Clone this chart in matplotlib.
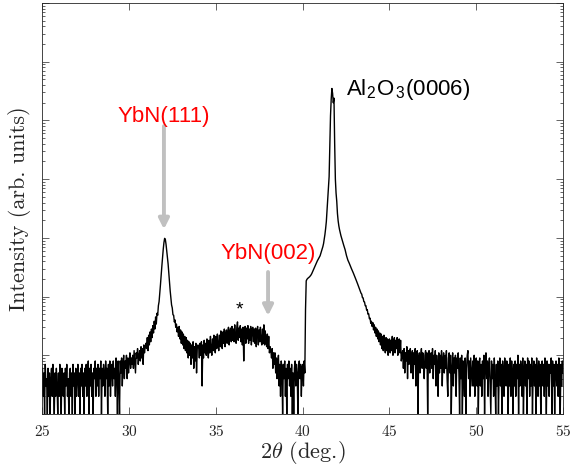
import numpy as np
import matplotlib
matplotlib.use("Agg")
import matplotlib.pyplot as plt
from matplotlib.ticker import LogLocator, NullFormatter, FixedLocator

plt.rcParams['font.family'] = 'cmr10'
plt.rcParams['mathtext.fontset'] = 'cm'
plt.rcParams['axes.formatter.use_mathtext'] = True

# scan grid (deg.)
scan_start = 25.0
scan_step = 0.04

# counts, segment by segment
# 25.00 - 30.96
bg_left = [
    6, 2, 5, 1, 7, 3, 4, 1, 6, 2,
    5, 1, 4, 6, 2, 7, 3, 1, 5, 2,
    6, 3, 1, 5, 2, 7, 4, 1, 6, 3,
    2, 5, 1, 6, 3, 7, 2, 4, 1, 5,
    6, 2, 5, 1, 7, 3, 5, 1, 6, 2,
    4, 7, 2, 5, 1, 6, 3, 7, 2, 5,
    1, 6, 3, 7, 2, 5, 8, 1, 6, 3,
    7, 2, 5, 1, 6, 4, 8, 2, 6, 3,
    7, 2, 6, 4, 8, 1, 6, 3, 7, 5,
    2, 8, 4, 6, 1, 7, 3, 8, 2, 6,
    7, 3, 8, 4, 6, 2, 9, 5, 1, 8,
    4, 1, 8, 5, 9, 3, 7, 10, 4, 8,
    6, 10, 4, 9, 5, 8, 11, 6, 9, 7,
    10, 6, 12, 8, 5, 11, 9, 13, 7, 10,
    12, 8, 14, 9, 13, 7, 15, 11, 14, 16,
]
# 31.00 - 33.96, YbN(111)
ybn111 = [
    13, 20, 12, 22, 15, 25, 17, 28, 20, 32,
    24, 38, 28, 45, 34, 52, 48, 70, 82, 112,
    160, 235, 330, 470, 640, 830, 980, 940, 780, 600,
    470, 360, 250, 170, 125, 95, 72, 64, 49, 48,
    37, 40, 30, 34, 25, 30,
    21, 31, 19, 27, 16, 25, 15, 23, 13, 21,
    12, 20, 11, 18, 9, 17, 10, 16, 7, 15,
    9, 17, 6, 14, 8, 16, 5, 13, 15,
]
# 34.00 - 40.16, broad hump (*) and YbN(002)
hump = [
    14, 9, 16, 10, 17, 3, 15, 9, 18, 11,
    16, 10, 19, 12, 9, 18, 11, 21, 13, 10,
    19, 12, 22, 14, 11, 21, 13, 23, 15, 12,
    22, 14, 26, 16, 13, 25, 16, 28, 14, 23,
    27, 16, 25, 30, 15, 26, 29, 17, 31, 18,
    28, 17, 33, 19, 16, 30, 37, 18, 29, 20,
    32, 17, 28, 15, 30, 8, 27, 31, 16, 29,
    19, 32, 16, 28, 18, 31, 15, 27, 30, 17,
    28, 16, 29, 14, 26, 31, 15, 27, 17, 30,
    18, 15, 28, 16, 33, 15, 26, 17, 14, 23,
    13, 21, 11, 14, 12, 9, 13, 6, 11, 7,
    11, 5, 9, 4, 8, 10, 3, 7, 2, 8,
    6, 1, 7, 4, 8, 2, 6, 1, 7, 4,
    8, 3, 6, 2, 7, 1, 5, 1, 6, 8,
    3, 7, 5, 1, 6, 8, 4, 7, 2, 6,
    7, 3, 8, 5, 60,
]
# 40.20 - 44.96, Al2O3(0006)
sapphire = [
    185, 196, 203, 208, 213, 218, 226, 234, 246, 262,
    280, 300, 320, 340, 362, 385, 405, 425, 448, 470,
    495, 540, 590, 650, 710, 800, 950, 1150, 1450, 1900,
    3000, 4800, 7000, 11000, 40000, 120000, 230000, 350000, 290000, 200000,
    240000, 40000, 10000, 5800, 4200, 2600, 1950, 1600, 1380, 1220,
    1090, 990, 900, 820, 750, 690, 630, 560, 500, 455,
    418, 395, 370, 345, 322, 302, 284, 265, 250, 232,
    218, 204, 190, 176, 165, 153, 142, 132, 122, 114,
    110, 96, 95, 82, 81, 70, 70, 59, 60, 50,
    51, 42, 43, 35, 38, 31, 36, 27, 33, 24,
    30, 21, 28, 19, 26, 17, 24, 15, 23, 13,
    21, 12, 22, 14, 11, 20, 12, 19, 10, 18,
]
# 45.00 - 55.00
bg_right = [
    19, 11, 18, 12, 21, 10, 17, 20, 11, 18,
    13, 20, 10, 17, 19, 11, 18, 8, 10, 12,
    6, 13, 5, 11, 8, 14, 4, 12, 7, 11,
    13, 5, 10, 12, 4, 11, 7, 13, 3, 10,
    12, 1, 9, 11, 5, 10, 13, 6, 11, 7,
    4, 10, 12, 6, 11, 1, 9, 12, 5, 10,
    11, 6, 13, 4, 10, 7, 12, 3, 10, 6,
    2, 11, 5, 10, 6, 12, 3, 9, 11, 5,
    10, 6, 12, 4, 2, 9, 11, 5, 10, 1,
    6, 11, 3, 9, 5, 10, 2, 9, 6, 11,
    5, 1, 9, 4, 10, 1, 8, 5, 2, 9,
    1, 6, 10, 12, 4, 8, 2, 9, 5, 3,
    8, 3, 10, 2, 7, 9, 3, 8, 1, 7,
    9, 3, 7, 2, 8, 4, 10, 1, 7, 11,
    4, 8, 2, 7, 9, 3, 1, 8, 4, 7,
    2, 9, 4, 1, 7, 3, 8, 1, 5, 9,
    3, 7, 1, 8, 5, 2, 9, 6, 3, 8,
    4, 1, 7, 3, 9, 2, 8, 5, 1, 7,
    3, 8, 2, 7, 4, 10, 1, 7, 3, 8,
    6, 2, 9, 1, 5, 8, 3, 7, 1, 9,
    4, 8, 2, 7, 3, 9, 1, 5, 8, 3,
    7, 1, 9, 5, 2, 8, 3, 7, 1, 6,
    8, 3, 7, 2, 9, 5, 1, 8, 3, 7,
    2, 7, 5, 9, 1, 8, 3, 7, 1, 6,
    8, 3, 7, 2, 9, 4, 1, 7, 3, 8,
    5,
]

x_ticks = [25, 30, 35, 40, 45, 50, 55]

counts = np.array(bg_left + ybn111 + hump + sapphire + bg_right, dtype=float)
two_theta = scan_start + scan_step * np.arange(len(counts))

axcol = '#262626'
fig = plt.figure(figsize=(5.71, 4.68), dpi=100)
ax = fig.add_axes([0.0744, 0.1154, 0.9116, 0.8782])
ax.plot(two_theta, counts, color='black', lw=1.0)

ax.set_yscale('log')
ax.set_xlim(25, 55)
ax.set_ylim(1, 1e7)
ax.xaxis.set_major_locator(FixedLocator(x_ticks))
ax.yaxis.set_major_locator(LogLocator(base=10, numticks=20))
ax.yaxis.set_minor_locator(LogLocator(base=10, subs=np.arange(2, 10), numticks=100))
ax.yaxis.set_major_formatter(NullFormatter())
ax.yaxis.set_minor_formatter(NullFormatter())
ax.tick_params(which='both', direction='in', top=True, right=True,
               color=axcol, labelcolor=axcol, width=0.5)
ax.tick_params(which='major', length=5, labelsize=11, pad=7)
ax.tick_params(which='minor', length=2.5)
for s in ax.spines.values():
    s.set_color(axcol)
    s.set_linewidth(0.6)

ax.set_xlabel(r'$2\theta$ (deg.)', fontsize=16, color=axcol, labelpad=0)
ax.set_ylabel('Intensity (arb. units)', fontsize=16, color=axcol, labelpad=1)

sans = 'Liberation Sans'
arrow = dict(arrowstyle='-|>', color='#c0c0c0', lw=2.8, mutation_scale=15,
             shrinkA=0, shrinkB=0)
ax.annotate('', xy=(32.0, 1400), xytext=(32.0, 80000), arrowprops=arrow)
ax.annotate('', xy=(38.0, 47), xytext=(38.0, 262), arrowprops=arrow)
ax.text(31.97, 118000, 'YbN(111)', color='red', fontsize=16, family=sans,
        ha='center', va='center')
ax.text(38.0, 540, 'YbN(002)', color='red', fontsize=16, family=sans,
        ha='center', va='center')
ax.text(36.33, 58, '*', color='black', fontsize=14, family=sans,
        ha='center', va='center')
ax.text(42.5, 330000, r'Al$_\mathregular{2}$O$_\mathregular{3}$(0006)',
        color='black', fontsize=16, family=sans, ha='left', va='center')

fig.savefig('out.png', dpi=100)
